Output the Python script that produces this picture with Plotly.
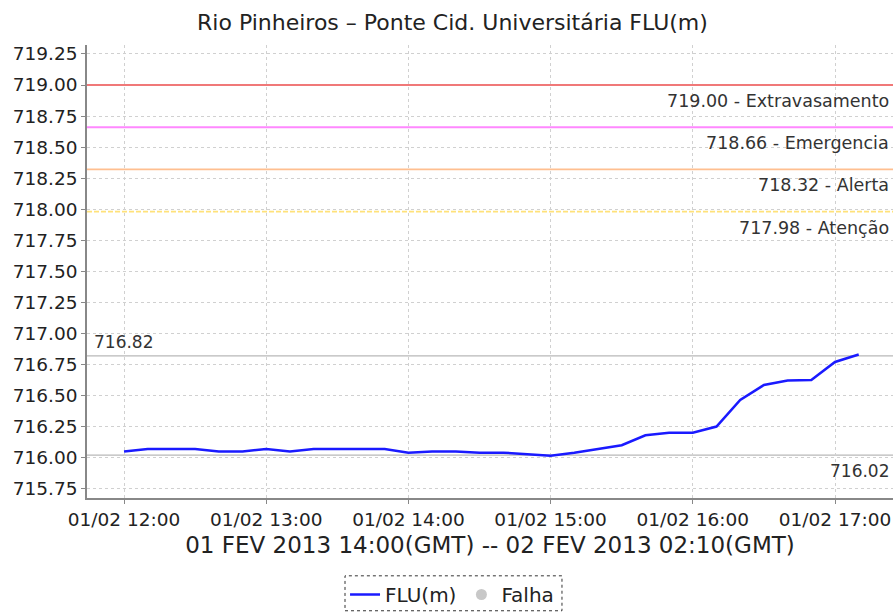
import plotly.graph_objects as go
import pandas as pd

times = pd.date_range("2013-02-01 12:00", "2013-02-01 17:10", freq="10min")
flu = [716.05, 716.07, 716.07, 716.07, 716.05, 716.05, 716.07, 716.05,
       716.07, 716.07, 716.07, 716.07, 716.04, 716.05, 716.05, 716.04,
       716.04, 716.03, 716.015, 716.04, 716.07, 716.10, 716.18, 716.20,
       716.20, 716.25, 716.465, 716.585, 716.62, 716.625, 716.77, 716.83]

thr_values = [719.00, 718.66, 718.32, 717.98]
thr_labels = ["719.00 - Extravasamento", "718.66 - Emergencia", "718.32 - Alerta", "717.98 - Atenção"]
thr_colors = ["#f07878", "#ff88ff", "#ffbf90", "#ffe27a"]
thr_dash = ["solid", "solid", "solid", "5px,2px"]
max_val, min_val = 716.82, 716.02
y_ticks = [715.75, 716.00, 716.25, 716.50, 716.75, 717.00, 717.25, 717.50,
           717.75, 718.00, 718.25, 718.50, 718.75, 719.00, 719.25]

FONT = "DejaVu Sans"
TXT = "#333333"
fig = go.Figure()
fig.add_trace(go.Scatter(x=times, y=flu, mode="lines", name="FLU(m)",
                         line=dict(color="#1a1aff", width=2.5)))
fig.add_trace(go.Scatter(x=[None], y=[None], mode="markers", name="Falha",
                         marker=dict(color="#c8c8c8", size=11)))

for v, c, d in zip(thr_values, thr_colors, thr_dash):
    fig.add_hline(y=v, line=dict(color=c, width=1.8, dash=d), layer="above")
for v in [max_val, min_val]:
    fig.add_hline(y=v, line=dict(color="#b8b8b8", width=1.3), layer="below")

for v, t in zip(thr_values, thr_labels):
    fig.add_annotation(x=0.998, xref="paper", y=v, yref="y", text=t, showarrow=False,
                       xanchor="right", yanchor="middle", yshift=-16,
                       font=dict(family=FONT, size=17.5, color=TXT))
fig.add_annotation(x=0.006, xref="paper", y=max_val, yref="y", text=f"{max_val:.2f}",
                   showarrow=False, xanchor="left", yanchor="middle", yshift=14,
                   font=dict(family=FONT, size=17, color=TXT))
fig.add_annotation(x=0.998, xref="paper", y=min_val, yref="y", text=f"{min_val:.2f}",
                   showarrow=False, xanchor="right", yanchor="middle", yshift=-16,
                   font=dict(family=FONT, size=17, color=TXT))

# dashed legend box
fig.add_shape(type="rect", xref="paper", yref="paper", x0=0.3201, x1=0.5893,
              y0=-0.2489, y1=-0.1718, line=dict(color="#333", width=1, dash="dot"))

fig.update_layout(
    width=893, height=614,
    margin=dict(l=87, r=0, t=45, b=115),
    paper_bgcolor="white", plot_bgcolor="white",
    title=dict(text="Rio Pinheiros – Ponte Cid. Universitária FLU(m)", x=0.5067, xanchor="center",
               y=1 - 22 / 614, yanchor="middle", font=dict(family=FONT, size=22, color="#222")),
    showlegend=True,
    legend=dict(orientation="h", x=0.4529, xanchor="center", y=-0.2137, yanchor="middle",
                font=dict(family=FONT, size=20, color="#222"), bgcolor="rgba(0,0,0,0)",
                itemwidth=30, tracegroupgap=0),
    font=dict(family=FONT),
)
fig.update_xaxes(
    range=[pd.Timestamp("2013-02-01 11:44:23"), pd.Timestamp("2013-02-01 17:24:28")],
    tickformat="%d/%m %H:%M", dtick=3600000, tick0="2013-02-01 12:00",
    showgrid=True, gridcolor="#d0d0d0", griddash="3px,3px", gridwidth=1,
    showline=True, linecolor="#888", linewidth=1.5, mirror=False,
    ticks="outside", ticklen=4, tickcolor="#888",
    tickfont=dict(family=FONT, size=18.5, color="#222"),
    title=dict(text="01 FEV 2013 14:00(GMT) -- 02 FEV 2013 02:10(GMT)", standoff=8,
               font=dict(family=FONT, size=23, color="#222")),
    zeroline=False,
)
fig.update_yaxes(
    range=[715.675, 719.322], tickvals=y_ticks, ticktext=[f"{v:.2f}" for v in y_ticks],
    showgrid=True, gridcolor="#d0d0d0", griddash="3px,3px", gridwidth=1,
    showline=True, linecolor="#888", linewidth=1.5,
    ticks="outside", ticklen=4, tickcolor="#888",
    tickfont=dict(family=FONT, size=18.5, color="#222"), zeroline=False,
)
fig.write_html("out.html", config={"displayModeBar": False},
               post_script="document.body.style.margin='0px';document.body.style.overflow='hidden';")
